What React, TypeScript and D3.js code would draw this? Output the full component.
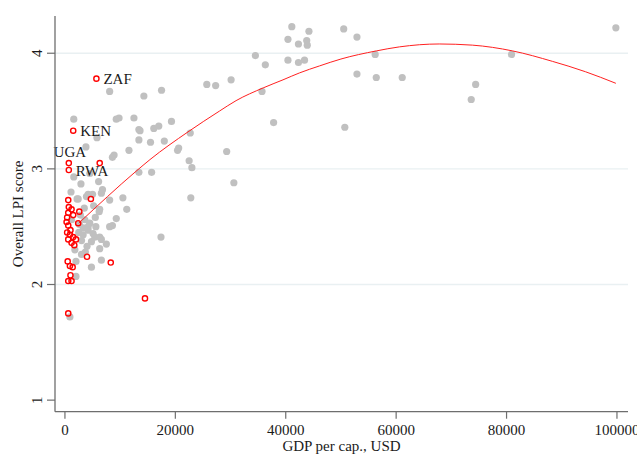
import React from "react";
import * as d3 from "d3";

const xTicks = [0, 20000, 40000, 60000, 80000, 100000];
const yTicks = [1, 2, 3, 4];
const gridTicks = [2, 3, 4];

// every country: [GDP per cap. USD, overall LPI]
const allCountries: [number, number][] = [
  [41100, 4.23], [44200, 4.19], [40400, 4.12], [42300, 4.08], [43800, 4.11],
  [43900, 4.07], [50500, 4.21], [52900, 4.14], [34500, 3.98], [36300, 3.9],
  [40400, 3.94], [42300, 3.92], [43400, 3.94], [56200, 3.99], [52900, 3.82],
  [56400, 3.79], [30100, 3.77], [35700, 3.67], [37800, 3.4], [50700, 3.36],
  [29300, 3.15], [30600, 2.88], [61100, 3.79], [74400, 3.73], [73600, 3.6],
  [80900, 3.99], [99800, 4.22],
  [8100, 3.67], [14300, 3.63], [17500, 3.68], [25700, 3.73], [27300, 3.72],
  [1600, 3.43], [9300, 3.43], [9800, 3.44], [12500, 3.44], [13400, 3.34],
  [13600, 3.33], [16100, 3.35], [17000, 3.37], [19300, 3.41], [13400, 3.25],
  [15500, 3.23], [18000, 3.24], [20600, 3.18], [20400, 3.16], [5800, 3.27],
  [3800, 3.19], [8900, 3.12], [8600, 3.1], [11600, 3.16], [22500, 3.07],
  [23000, 3.01], [22800, 2.75], [22700, 3.31], [13400, 2.97], [15700, 2.97],
  [1600, 2.93], [2900, 2.87], [6100, 2.89], [6800, 2.82], [1100, 2.8],
  [4200, 2.78], [8100, 2.73], [10500, 2.75], [11200, 2.65], [9300, 2.57],
  [8600, 2.51], [6200, 2.63], [17400, 2.41], [2200, 2.74], [4500, 2.96],
  [6600, 2.79], [6300, 2.65], [6600, 2.39], [7500, 2.35], [6600, 2.21],
  [2400, 2.74], [3900, 2.76], [5000, 2.78], [3600, 2.56], [4500, 2.53],
  [3300, 2.49], [4200, 2.47], [5100, 2.44], [6300, 2.41], [4800, 2.37],
  [6300, 2.31], [3300, 2.43], [3000, 2.26], [4800, 2.15], [2000, 2.07],
  [900, 1.72], [2800, 2.6], [3500, 2.66], [5500, 2.58], [4000, 2.33],
  [2500, 2.45], [5600, 2.5], [2000, 2.2], [4200, 2.5], [5400, 2.41],
  [8100, 2.5], [1200, 2.56], [1800, 2.3], [3000, 2.38], [5200, 2.68],
  [2600, 2.52], [3700, 2.28],
];

// African countries, hollow red markers
const africa: [number, number][] = [
  [5700, 3.78], [1500, 3.33], [700, 3.05], [700, 2.99], [6300, 3.05],
  [4700, 2.74], [600, 2.73], [700, 2.67], [2600, 2.63], [600, 2.62],
  [1200, 2.65], [1500, 2.6], [2400, 2.53], [300, 2.54], [600, 2.51],
  [900, 2.43], [1500, 2.41], [2000, 2.39], [600, 2.39], [1200, 2.36],
  [1700, 2.34], [4000, 2.24], [8300, 2.19], [500, 2.2], [900, 2.16],
  [1400, 2.15], [1000, 2.08], [600, 2.03], [1200, 2.03], [14500, 1.88],
  [600, 1.75], [400, 2.58], [1000, 2.47], [400, 2.45],
];

const labelled = [
  { code: "ZAF", gdp: 5700, lpi: 3.78, dx: 7, dy: 5.5, anchor: "start" },
  { code: "KEN", gdp: 1500, lpi: 3.33, dx: 7, dy: 5.5, anchor: "start" },
  { code: "UGA", gdp: 700, lpi: 3.05, dx: 1, dy: -6, anchor: "middle" },
  { code: "RWA", gdp: 700, lpi: 2.99, dx: 7, dy: 6, anchor: "start" },
];

// fitted curve
const fitted: [number, number][] = [
  [2500, 2.53], [12900, 2.98], [15400, 3.08], [22300, 3.32], [28000, 3.5],
  [31000, 3.59], [35900, 3.7], [39500, 3.77], [42500, 3.83], [46100, 3.89],
  [50000, 3.95], [56400, 4.02], [60600, 4.055], [67800, 4.08], [73800, 4.07],
  [81100, 4.02], [88300, 3.93], [94300, 3.84], [99800, 3.74],
];

const font = "'Liberation Serif', 'Times New Roman', serif";
const axisColor = "#6e6e6e";

export default function App() {
  const x = d3.scaleLinear().domain([-1800, 102000]).range([55, 628]);
  const y = d3.scaleLinear().domain([0.9, 4.322]).range([411.7, 16]);
  const line = d3
    .line<[number, number]>()
    .x((d) => x(d[0]))
    .y((d) => y(d[1]))
    .curve(d3.curveMonotoneX);

  const [x0, x1] = x.range();
  const [yb, yt] = y.range();

  return (
    <svg
      width={637}
      height={466}
      style={{ position: "absolute", left: 0, top: 0, background: "#fff" }}
      fontFamily={font}
    >
      {gridTicks.map((t) => (
        <line key={t} x1={x0} x2={x1} y1={y(t)} y2={y(t)} stroke="#e9f0f2" strokeWidth={1.4} />
      ))}

      {allCountries.map((d, i) => (
        <circle key={i} cx={x(d[0])} cy={y(d[1])} r={3.6} fill="#c0c0c0" />
      ))}

      <path d={line(fitted) ?? ""} fill="none" stroke="#ff2020" strokeWidth={1} />

      {africa.map((d, i) => (
        <circle key={i} cx={x(d[0])} cy={y(d[1])} r={2.6} fill="none" stroke="#ff0000" strokeWidth={1.4} />
      ))}

      {labelled.map((l) => (
        <text
          key={l.code}
          x={x(l.gdp) + l.dx}
          y={y(l.lpi) + l.dy}
          textAnchor={l.anchor}
          fontSize={15}
          fill="#1a1a1a"
        >
          {l.code}
        </text>
      ))}

      {/* y axis */}
      <line x1={x0} x2={x0} y1={yt} y2={yb} stroke={axisColor} strokeWidth={1.3} />
      {yTicks.map((t) => (
        <g key={t}>
          <line x1={x0 - 8} x2={x0} y1={y(t)} y2={y(t)} stroke={axisColor} strokeWidth={1.2} />
          <text
            transform={`translate(${x0 - 13},${y(t)}) rotate(-90)`}
            textAnchor="middle"
            fontSize={15}
            fill="#1a1a1a"
          >
            {t}
          </text>
        </g>
      ))}
      <text
        transform={`translate(23,${(yt + yb) / 2}) rotate(-90)`}
        textAnchor="middle"
        fontSize={15}
        fill="#1a1a1a"
      >
        Overall LPI score
      </text>

      {/* x axis */}
      <line x1={x0} x2={x1} y1={yb} y2={yb} stroke={axisColor} strokeWidth={1.3} />
      {xTicks.map((t) => (
        <g key={t}>
          <line x1={x(t)} x2={x(t)} y1={yb} y2={yb + 7} stroke={axisColor} strokeWidth={1.2} />
          <text x={x(t)} y={yb + 23.5} textAnchor="middle" fontSize={15} fill="#1a1a1a">
            {t}
          </text>
        </g>
      ))}
      <text x={(x0 + x1) / 2} y={451} textAnchor="middle" fontSize={15} fill="#1a1a1a">
        GDP per cap., USD
      </text>
    </svg>
  );
}
